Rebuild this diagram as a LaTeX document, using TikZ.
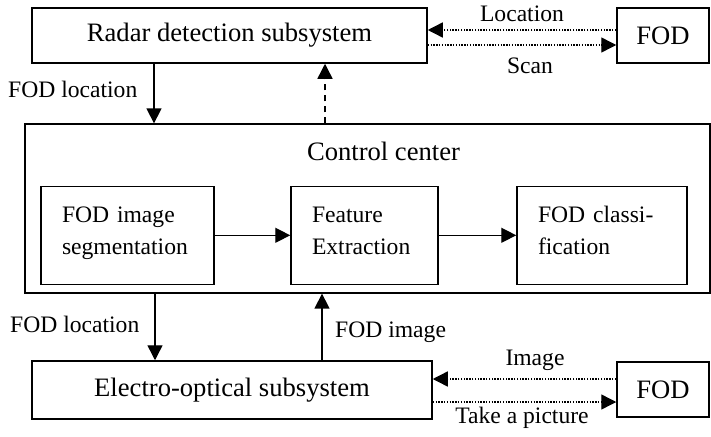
\documentclass[tikz,border=0pt]{standalone}
\usepackage{fontspec}
\setmainfont{Liberation Serif}
\usetikzlibrary{arrows.meta,positioning,calc}

% keeps two-line boxes evenly spaced
\newcommand{\stepline}{\rule[-9pt]{0pt}{25pt}}

\begin{document}
\begin{tikzpicture}[x=1pt, y=-1pt]
    \tikzset{
      box/.style={draw, line width=1.5pt, inner sep=0pt, minimum height=55pt,
                  font=\fontsize{26.6}{32}\selectfont},
      sub/.style={draw, line width=1.5pt, inner xsep=21pt, inner ysep=0pt,
                  minimum height=98pt, align=left,
                  font=\fontsize{23.6}{32}\selectfont},
      lbl/.style={inner sep=0pt, font=\fontsize{23.6}{28}\selectfont},
      arr/.style={-{Triangle[length=15pt,width=15pt]}, line width=1.4pt},
      dotarr/.style={arr, dash pattern=on 1.4pt off 1.4pt},
      dasharr/.style={arr, dash pattern=on 6pt off 5pt}
    }
    \useasboundingbox (0,0) rectangle (711,436);

    % top row
    \node[box, minimum width=395pt] (radar) at (229.5,35.5) {Radar detection subsystem};
    \node[box, minimum width=92pt]  (fodA)  at (663,35.5)   {FOD};

    % control center and its stages
    \node[draw, line width=1.3pt, minimum width=685pt, minimum height=169pt] (ctrl) at (367.5,208.5) {};
    \node[lbl, anchor=base, font=\fontsize{26.6}{32}\selectfont] (ctitle) at (383.5,160) {Control center};
    \node[sub, text width=131pt] (seg)  at (127.5,235.3) {\stepline FOD image\\\stepline segmentation};
    \node[sub, text width=105pt] (feat) at (364.5,235.3) {\stepline Feature\\\stepline Extraction};
    \node[sub, text width=128pt] (cls)  at (602,235.3)   {\stepline FOD classi-\\\stepline fication};

    % bottom row
    \node[box, minimum width=400pt, minimum height=58pt] (eo) at (232,390) {Electro-optical subsystem};
    \node[box, minimum width=92pt] (fodB) at (663,389.5) {FOD};

    % links inside the control center
    \draw[arr] (seg.east) -- (feat.west);
    \draw[arr] (feat.east) -- (cls.west);

    % radar <-> control
    \draw[arr] ([xshift=-75.5pt]radar.south) -- ([xshift=-75.5pt]radar.south |- ctrl.north);
    \draw[dasharr] ([xshift=95.5pt]radar.south |- ctrl.north) -- ([xshift=95.5pt]radar.south);
    \node[lbl, anchor=base west] (locA) at (8,97) {FOD location};

    % control <-> electro-optical
    \draw[arr] ([xshift=-77pt]eo.north |- ctrl.south) -- ([xshift=-77pt]eo.north);
    \draw[arr] ([xshift=90pt]eo.north) -- ([xshift=90pt]eo.north |- ctrl.south);
    \node[lbl, anchor=base west] (locB) at (10,332) {FOD location};
    \node[lbl, anchor=base west] (img)  at (335,337) {FOD image};

    % radar <-> FOD
    \draw[dotarr] ([yshift=5.5pt]fodA.west) -- ([yshift=5.5pt]fodA.west -| radar.east);
    \draw[dotarr] ([yshift=-9.5pt]fodA.west -| radar.east) -- ([yshift=-9.5pt]fodA.west);
    \node[lbl, anchor=base] (loc)  at (522,22) {Location};
    \node[lbl, anchor=base] (scan) at (530,73) {Scan};

    % electro-optical <-> FOD
    \draw[dotarr] ([yshift=10.5pt]fodB.west) -- ([yshift=10.5pt]fodB.west -| eo.east);
    \draw[dotarr] ([yshift=-12.5pt]fodB.west -| eo.east) -- ([yshift=-12.5pt]fodB.west);
    \node[lbl, anchor=base] (image) at (535,365) {Image};
    \node[lbl, anchor=base] (take)  at (522,423) {Take a picture};
\end{tikzpicture}
\end{document}
